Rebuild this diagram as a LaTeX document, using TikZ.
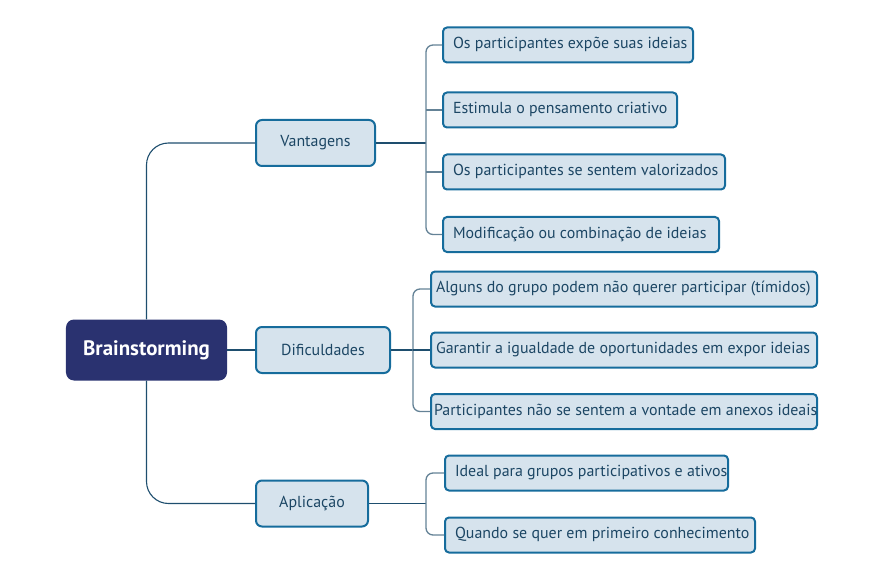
\documentclass[tikz,border=0pt]{standalone}
\usepackage{fontspec}
\setmainfont{PT Sans}
\definecolor{leaffill}{RGB}{214,227,237}
\definecolor{leafdraw}{RGB}{22,108,156}
\definecolor{leaftext}{RGB}{28,70,100}
\definecolor{rootfill}{RGB}{42,50,112}
\definecolor{maincon}{RGB}{30,78,110}
\definecolor{buscon}{RGB}{100,130,150}
\newcommand{\lbox}[2]{\makebox[#1bp][l]{\strut #2}}
\tikzset{
  leaf/.style={draw=leafdraw, fill=leaffill, line width=2bp, rounded corners=4bp,
    text=leaftext, font=\fontsize{16}{18}\selectfont, anchor=west,
    inner xsep=10bp, minimum height=35bp},
  branch/.style={draw=leafdraw, fill=leaffill, line width=2bp, rounded corners=6bp,
    text=leaftext, font=\fontsize{16}{18}\selectfont, minimum height=46bp},
  rootbox/.style={fill=rootfill, rounded corners=8bp, text=white,
    font=\fontsize{21}{24}\selectfont\bfseries, minimum width=161bp, minimum height=61bp},
  con/.style={draw=maincon, line width=1.1bp},
  bus/.style={draw=buscon, line width=1.3bp, rounded corners=7bp}
}
\begin{document}
\begin{tikzpicture}[x=1bp,y=-1bp]
\useasboundingbox (0,0) rectangle (891,574);
\node[rootbox] (root) at (146.5,350) {Brainstorming};
\node[branch, minimum width=119bp] (vant) at (315.5,143) {Vantagens};
\node[branch, minimum width=134bp] (dif) at (323,350) {Dificuldades};
\node[branch, minimum width=112bp] (apl) at (312,503.5) {Aplicação};

\node[leaf] (v1) at (442,45) {\lbox{230}{Os participantes expõe suas ideias}};
\node[leaf] (v2) at (442,110) {\lbox{214}{Estimula o pensamento criativo}};
\node[leaf] (v3) at (442,172) {\lbox{262}{Os participantes se sentem valorizados}};
\node[leaf] (v4) at (442,234.5) {\lbox{256}{Modificação ou combinação de ideias}};

\node[leaf, inner xsep=5bp] (d1) at (430,289) {\lbox{376}{Alguns do grupo podem não querer participar (tímidos)}};
\node[leaf, inner xsep=5bp] (d2) at (430,350) {\lbox{376}{Garantir a igualdade de oportunidades em expor ideias}};
\node[leaf, inner xsep=3bp] (d3) at (430,411.5) {\lbox{380}{Participantes não se sentem a vontade em anexos ideais}};

\node[leaf] (a1) at (444,473) {\lbox{263}{Ideal para grupos participativos e ativos}};
\node[leaf] (a2) at (444,535) {\lbox{290}{Quando se quer em primeiro conhecimento}};

\coordinate (vbus) at (426,143);
\coordinate (dbus) at (413,350);
\coordinate (abus) at (426,503.5);

% root connectors
\draw[con, rounded corners=22bp] (root.north) |- (vant.west);
\draw[con, rounded corners=22bp] (root.south) |- (apl.west);
\draw[con] (root.east) -- (dif.west);

% Vantagens
\draw[con] (vant.east) -- (vbus);
\draw[bus] (v1.west) -| (vbus) |- (v4.west);
\draw[bus] (v2.west) -- (v2.west -| vbus);
\draw[bus] (v3.west) -- (v3.west -| vbus);

% Dificuldades
\draw[con] (dif.east) -- (dbus);
\draw[bus] (d1.west) -| (dbus) |- (d3.west);
\draw[con] (dbus) -- (d2.west);

% Aplicacao
\draw[con] (apl.east) -- (abus);
\draw[bus] (a1.west) -| (abus) |- (a2.west);
\end{tikzpicture}
\end{document}
